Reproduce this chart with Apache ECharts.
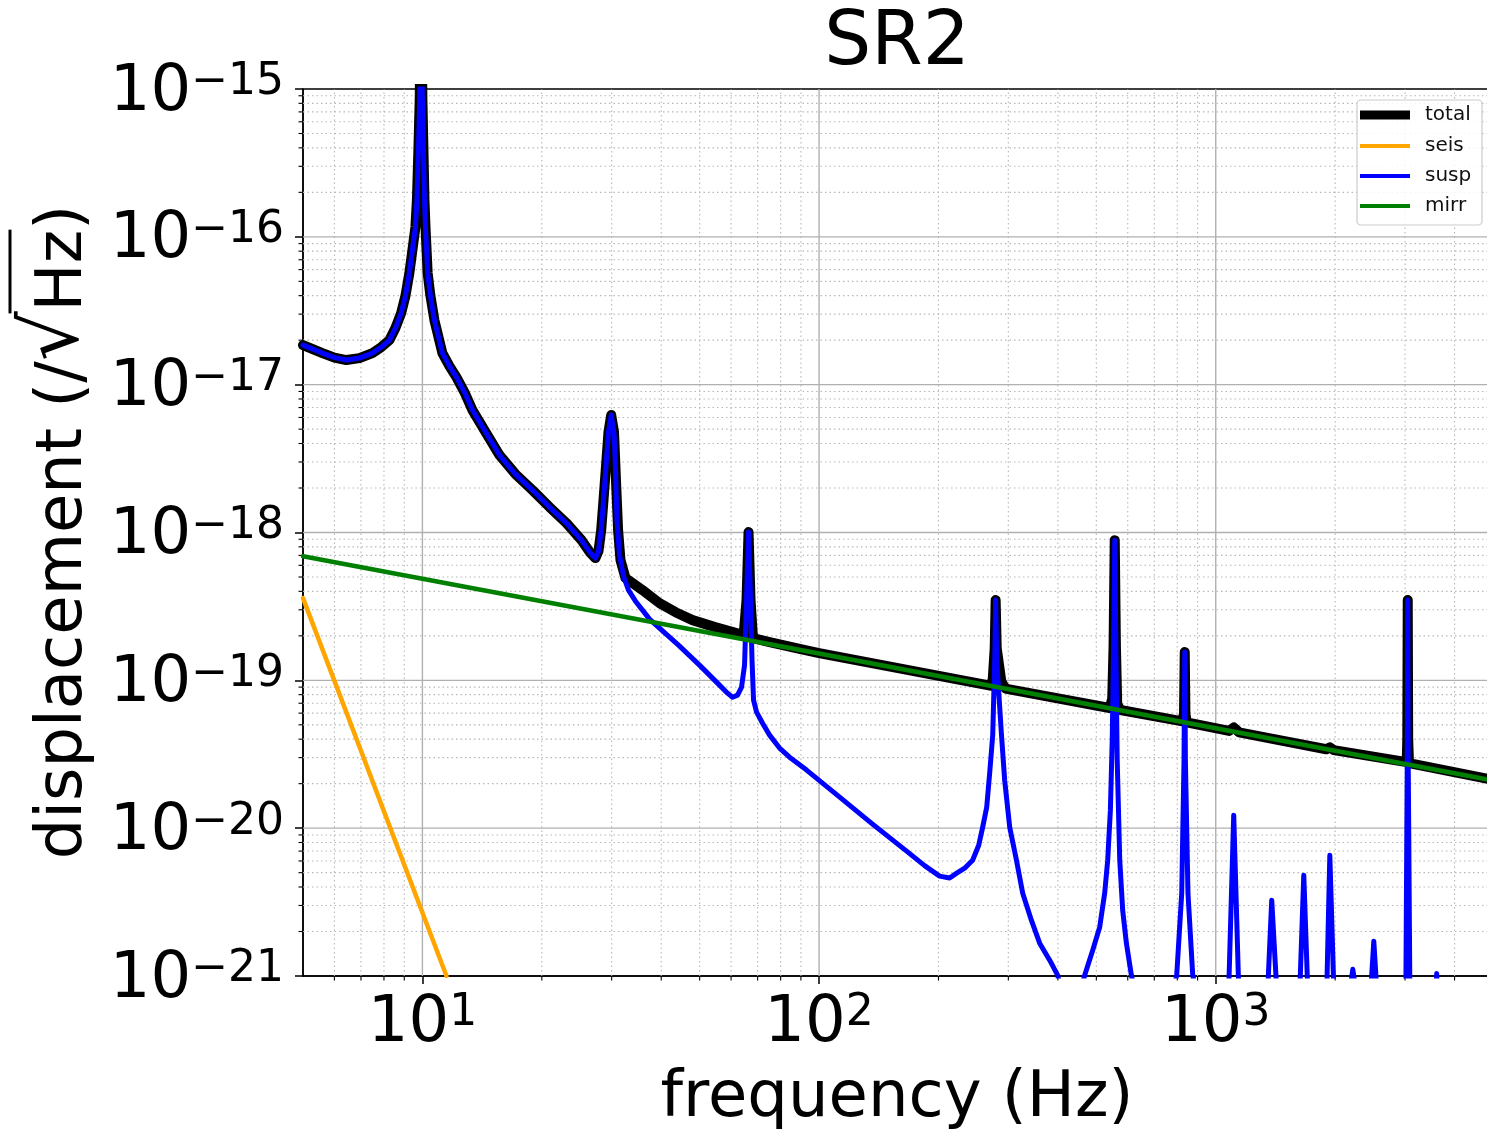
<!DOCTYPE html>
<html>
<head>
<meta charset="utf-8">
<script src="https://cdn.jsdelivr.net/npm/echarts@6.0.0/dist/echarts.min.js"></script>
<style>
  html, body { margin: 0; padding: 0; background: #ffffff; overflow: hidden; }
  #chart { width: 1500px; height: 1134px; }
</style>
</head>
<body>
<div id="chart"></div>
<script>
// Noise budget for SR2: displacement spectral density (m/√Hz) against frequency (Hz).

// seismic contribution
const seisFreq = [5, 11.5];
const seisDisp = [3.6e-19, 1.0e-21];

// mirror thermal contribution
const mirrFreq = [5, 5000];
const mirrDisp = [6.9e-19, 2.1e-20];

// suspension contribution
const suspFreq = [
  5.0, 5.597, 6.0, 6.43, 6.94, 7.48, 7.88, 8.26, 8.55, 8.84,
  9.06, 9.27, 9.436, 9.602, 9.686, 9.77, 9.844, 9.92, 10.0, 10.06,
  10.12, 10.18, 10.31, 10.47, 10.72, 11.23, 11.70, 12.18, 12.76, 13.37,
  14.33, 15.64, 17.16, 18.94, 20.91, 23.08, 25.18, 26.53, 27.31, 27.79,
  28.23, 28.61, 29.07, 29.45, 29.92, 30.41, 30.68, 30.94, 31.39, 32.13,
  33.08, 34.45, 35.88, 37.37, 39.6, 44.49, 49.95, 56.1, 58.77, 60.5,
  62.3, 63.76, 64.88, 65.63, 66.4, 67.17, 67.76, 68.36, 69.57, 72.03,
  75.04, 79.5, 84.25, 93.0, 112.7, 136.4, 166.2, 184.5, 201.3, 213.4,
  222.3, 232.8, 243.8, 252.6, 258.5, 264.6, 269.2, 274.0, 277.2, 278.7,
  280.4, 288.1, 293.7, 302.4, 314.5, 326.1, 342.9, 359.8, 381.4, 399.6,
  430, 467.3, 489.6, 509.8, 524.8, 534.1, 542.5, 548.3, 552.6, 556.4,
  560.2, 564.4, 572.8, 582.6, 595.3, 612.9, 700, 797.3, 820.8, 831.8,
  835.3, 838.5, 851.1, 875, 970, 1078, 1110, 1143, 1250, 1352,
  1384, 1425, 1500, 1629, 1667, 1706, 1800, 1905, 1939, 1985,
  2080, 2178, 2216, 2255, 2350, 2460, 2503, 2547, 2800, 3015,
  3040, 3048, 3056, 3086, 3300, 3580, 3606, 3630, 5000
];
const suspDisp = [
  1.853e-17, 1.636e-17, 1.525e-17, 1.467e-17, 1.513e-17, 1.636e-17, 1.797e-17, 2.003e-17, 2.415e-17, 3.05e-17,
  3.976e-17, 5.69e-17, 8.14e-17, 1.165e-16, 1.774e-16, 3.87e-16, 8.43e-16, 5e-15, 8.43e-16, 3.87e-16,
  1.774e-16, 1.165e-16, 5.69e-17, 4.038e-17, 2.735e-17, 1.636e-17, 1.336e-17, 1.126e-17, 8.91e-18, 6.73e-18,
  4.93e-18, 3.34e-18, 2.484e-18, 1.936e-18, 1.486e-18, 1.158e-18, 8.88e-19, 7.26e-19, 6.71e-19, 7.48e-19,
  1.038e-18, 1.656e-18, 2.949e-18, 4.78e-18, 6.23e-18, 4.78e-18, 2.64e-18, 1.213e-18, 7.03e-19, 5.07e-19,
  4.08e-19, 3.43e-19, 2.985e-19, 2.595e-19, 2.255e-19, 1.703e-19, 1.267e-19, 9.28e-20, 8.19e-20, 7.69e-20,
  7.94e-20, 8.99e-20, 1.267e-19, 3.49e-19, 1.006e-18, 3.49e-19, 1.37e-19, 7.35e-20, 6.09e-20, 5.13e-20,
  4.26e-20, 3.48e-20, 3.02e-20, 2.47e-20, 1.621e-20, 1.064e-20, 6.99e-21, 5.58e-21, 4.74e-21, 4.6e-21,
  4.96e-21, 5.36e-21, 6.07e-21, 7.67e-21, 1.016e-20, 1.387e-20, 2.356e-20, 4.26e-20, 1.37e-19, 3.49e-19,
  1.37e-19, 4.39e-20, 2.11e-20, 1.016e-20, 6.07e-21, 3.63e-21, 2.385e-21, 1.667e-21, 1.279e-21, 1.01e-21,
  4e-22, 1.01e-21, 1.495e-21, 2.14e-21, 3.63e-21, 6.07e-21, 1.324e-20, 3.94e-20, 1.6e-19, 8.88e-19,
  1.6e-19, 2.88e-20, 6.07e-21, 2.79e-21, 1.667e-21, 1.01e-21, 2e-22, 1.01e-21, 3.63e-21, 2.88e-20,
  1.552e-19, 2.88e-20, 3.63e-21, 1.01e-21, 3e-22, 8e-22, 1.225e-20, 8e-22, 3e-22, 8e-22,
  3.26e-21, 8e-22, 3e-22, 8e-22, 4.81e-21, 8e-22, 3e-22, 8e-22, 6.56e-21, 8e-22,
  3e-22, 8e-22, 1.11e-21, 8e-22, 3e-22, 8e-22, 1.72e-21, 8e-22, 3e-22, 8e-22,
  3e-20, 3.49e-19, 3e-20, 8e-22, 3e-22, 6e-22, 1.04e-21, 6e-22, 2e-22
];

// quadrature sum of all terms
const totalFreq = [
  5.0, 5.597, 6.0, 6.43, 6.94, 7.48, 7.88, 8.26, 8.55, 8.84,
  9.06, 9.27, 9.436, 9.602, 9.686, 9.77, 9.844, 9.92, 10.0, 10.06,
  10.12, 10.18, 10.31, 10.47, 10.72, 11.23, 11.70, 12.18, 12.76, 13.37,
  14.33, 15.64, 17.16, 18.94, 20.91, 23.08, 25.18, 26.53, 27.31, 27.79,
  28.23, 28.61, 29.07, 29.45, 29.92, 30.41, 30.76, 31.14, 31.58, 32.51,
  35.87, 39.6, 43.47, 47.97, 54.67, 61.93, 64.5, 65.63, 66.4, 67.17,
  68.15, 75.04, 89.3, 100, 270, 274.0, 277.2, 278.7, 280.4, 288.1,
  295, 540, 548.3, 552.6, 556.4, 560.2, 564.4, 575, 825, 831.8,
  835.3, 838.5, 845, 1080, 1110, 1145, 1900, 1939, 1985, 3030,
  3040, 3048, 3056, 3070, 5000
];
const totalDisp = [
  1.853e-17, 1.636e-17, 1.525e-17, 1.467e-17, 1.513e-17, 1.636e-17, 1.797e-17, 2.003e-17, 2.415e-17, 3.05e-17,
  3.976e-17, 5.69e-17, 8.14e-17, 1.165e-16, 1.774e-16, 3.87e-16, 8.43e-16, 5e-15, 8.43e-16, 3.87e-16,
  1.774e-16, 1.165e-16, 5.69e-17, 4.038e-17, 2.735e-17, 1.636e-17, 1.336e-17, 1.126e-17, 8.91e-18, 6.73e-18,
  4.93e-18, 3.34e-18, 2.484e-18, 1.936e-18, 1.486e-18, 1.158e-18, 8.88e-19, 7.26e-19, 6.71e-19, 7.48e-19,
  1.038e-18, 1.656e-18, 2.949e-18, 4.78e-18, 6.23e-18, 4.78e-18, 2.26e-18, 1.038e-18, 6.51e-19, 4.92e-19,
  4.08e-19, 3.33e-19, 2.89e-19, 2.555e-19, 2.29e-19, 2.086e-19, 1.99e-19, 3.49e-19, 1.006e-18, 3.49e-19,
  1.93e-19, 1.813e-19, 1.63e-19, 1.53e-19, 9.2e-20, 1.01e-19, 1.65e-19, 3.49e-19, 1.65e-19, 9.8e-20,
  8.8e-20, 6.5e-20, 7.5e-20, 1.7e-19, 8.88e-19, 1.7e-19, 6.9e-20, 6.3e-20, 5.28e-20, 6.0e-20,
  1.552e-19, 5.95e-20, 5.2e-20, 4.55e-20, 4.8e-20, 4.45e-20, 3.42e-20, 3.52e-20, 3.37e-20, 2.8e-20,
  4.0e-20, 3.49e-19, 4.0e-20, 2.75e-20, 2.12e-20
];

// axis ranges and decade ticks (exponents of ten)
const freqMin = 5;
const freqMax = 5000;
const dispMinExp = -21;
const dispMaxExp = -15;
const xDecades = [1, 2, 3];
const minorMultipliers = [2, 3, 4, 5, 6, 7, 8, 9];

const FONT = "'DejaVu Sans', sans-serif";
const X_MIN = Math.log10(freqMin);
const X_MAX = Math.log10(freqMax);

function toLogPairs(freq, disp) {
  return freq.map((f, i) => [Math.log10(f), Math.log10(disp[i])]);
}

// grid lines and minor ticks: [x, y, kind(0 = vertical, 1 = horizontal), major?]
const gridItems = [];
for (let e = 0; e <= 3; e++) {
  if (e >= 1) gridItems.push([e, dispMinExp, 0, 1]);
  minorMultipliers.forEach(m => {
    const lv = Math.log10(m) + e;
    if (lv > X_MIN + 1e-9 && lv < X_MAX - 1e-9) gridItems.push([lv, dispMinExp, 0, 0]);
  });
}
for (let e = dispMinExp; e <= dispMaxExp; e++) {
  if (e > dispMinExp && e < dispMaxExp) gridItems.push([X_MIN, e, 1, 1]);
  if (e < dispMaxExp) {
    minorMultipliers.forEach(m => gridItems.push([X_MIN, e + Math.log10(m), 1, 0]));
  }
}

// y-axis title: measure pieces so the radical's bar can run over "Hz"
const yTitleCenter = 532;
const measureCtx = document.createElement('canvas').getContext('2d');
function textWidth(str, font) { measureCtx.font = font; return measureCtx.measureText(str).width; }
const fontBody = "64px 'DejaVu Sans'";
const fontRad = "78px 'DejaVu Sans'";
const wPrefix = textWidth('displacement (/', fontBody);
const wRad = textWidth('\u221A', fontRad);
const wHz = textWidth('Hz', fontBody);
const wClose = textWidth(')', fontBody);
const wAll = wPrefix + wRad + wHz + wClose;
const radTopY = yTitleCenter + wAll / 2 - wPrefix - wRad;
const hzEndY = radTopY - wHz;

const chart = echarts.init(document.getElementById('chart'), null, { renderer: 'canvas' });

const labelRich = {
  b: { fontFamily: FONT, fontSize: 64, lineHeight: 64, color: '#000', verticalAlign: 'bottom' },
  s: { fontFamily: FONT, fontSize: 44, lineHeight: 44, color: '#000', verticalAlign: 'top' }
};

const option = {
  animation: false,
  backgroundColor: '#ffffff',
  grid: {
    left: 303, top: 89, width: 1190, height: 887,
    show: true, borderColor: '#000000', borderWidth: 1.5, backgroundColor: 'transparent',
    containLabel: false
  },
  xAxis: {
    type: 'value', min: X_MIN, max: X_MAX,
    axisLine: { show: true, lineStyle: { color: '#000', width: 1.5 } },
    axisTick: { show: true, customValues: xDecades, length: 8, lineStyle: { color: '#000', width: 1.5 } },
    splitLine: { show: false },
    axisLabel: {
      customValues: xDecades, margin: 16,
      formatter: v => '{b|10}{s|' + v + '}',
      rich: labelRich
    }
  },
  yAxis: {
    type: 'value', min: dispMinExp, max: dispMaxExp, interval: 1,
    axisLine: { show: true, lineStyle: { color: '#000', width: 1.5 } },
    axisTick: { show: true, length: 8, lineStyle: { color: '#000', width: 1.5 } },
    splitLine: { show: false },
    axisLabel: {
      margin: 19, padding: [8, 0, 0, 0],
      formatter: v => '{b|10}{s|\u2212' + Math.abs(v) + '}',
      rich: labelRich
    }
  },
  legend: [
    {
      data: ['total'], orient: 'vertical', left: 1360, top: 105, padding: 0, z: 20,
      icon: 'rect', itemWidth: 50, itemHeight: 9, selectedMode: false,
      textStyle: { fontFamily: FONT, fontSize: 20, color: '#111', padding: [0, 0, 0, 10] }
    },
    {
      data: ['seis', 'susp', 'mirr'], orient: 'vertical', left: 1360, top: 136, padding: 0, z: 20,
      icon: 'rect', itemWidth: 50, itemHeight: 4, itemGap: 10, selectedMode: false,
      textStyle: { fontFamily: FONT, fontSize: 20, color: '#111', padding: [0, 0, 0, 10] }
    }
  ],
  graphic: {
    elements: [
      {
        type: 'rect', z: 15,
        shape: { x: 1357, y: 100, width: 125, height: 125, r: 4 },
        style: { fill: 'rgba(255,255,255,0.85)', stroke: '#cccccc', lineWidth: 1.2 }
      },
      {
        type: 'text', x: 897, y: 45, z: 15,
        style: { text: 'SR2', font: '74px ' + FONT, fill: '#000', textAlign: 'center', textVerticalAlign: 'middle' }
      },
      {
        type: 'text', x: 897, y: 1099, z: 15,
        style: { text: 'frequency (Hz)', font: '64px ' + FONT, fill: '#000', textAlign: 'center', textVerticalAlign: 'middle' }
      },
      {
        type: 'text', x: 57, y: yTitleCenter, rotation: Math.PI / 2, z: 15,
        style: {
          text: '{n|displacement (/}{r|\u221A}{n|Hz)}',
          textAlign: 'center', textVerticalAlign: 'middle',
          rich: {
            n: { fontFamily: FONT, fontSize: 64, lineHeight: 78, fill: '#000', verticalAlign: 'bottom' },
            r: { fontFamily: FONT, fontSize: 78, lineHeight: 78, fill: '#000', verticalAlign: 'bottom' }
          }
        }
      },
      {
        type: 'line', z: 15,
        shape: { x1: 10, y1: radTopY + 2, x2: 10, y2: hzEndY },
        style: { stroke: '#000', lineWidth: 3 }
      }
    ]
  },
  series: [
    {
      name: 'grid', type: 'custom', coordinateSystem: 'cartesian2d', clip: false, z: 1, silent: true,
      data: gridItems,
      renderItem: (params, api) => {
        const kind = api.value(2);
        const major = api.value(3) === 1;
        const stroke = major ? '#b0b0b0' : '#b8b8b8';
        const dash = major ? null : [1.5, 3];
        const lw = major ? 1.4 : 1.1;
        if (kind === 0) {
          const v = api.value(0);
          const p0 = api.coord([v, dispMinExp]);
          const p1 = api.coord([v, dispMaxExp]);
          const children = [{
            type: 'line', shape: { x1: p0[0], y1: p0[1], x2: p1[0], y2: p1[1] },
            style: { stroke, lineWidth: lw, lineDash: dash }
          }];
          if (!major) children.push({
            type: 'line', shape: { x1: p0[0], y1: p0[1], x2: p0[0], y2: p0[1] + 4.5 },
            style: { stroke: '#000', lineWidth: 1.1 }
          });
          return { type: 'group', children };
        }
        const v = api.value(1);
        const p0 = api.coord([X_MIN, v]);
        const p1 = api.coord([X_MAX, v]);
        const children = [{
          type: 'line', shape: { x1: p0[0], y1: p0[1], x2: p1[0], y2: p1[1] },
          style: { stroke, lineWidth: lw, lineDash: dash }
        }];
        if (!major) children.push({
          type: 'line', shape: { x1: p0[0] - 4.5, y1: p0[1], x2: p0[0], y2: p0[1] },
          style: { stroke: '#000', lineWidth: 1.1 }
        });
        return { type: 'group', children };
      }
    },
    {
      name: 'total', type: 'line', z: 2, color: '#000000', showSymbol: false, clip: true, silent: true,
      data: toLogPairs(totalFreq, totalDisp),
      lineStyle: { color: '#000000', width: 10, cap: 'round', join: 'round' }
    },
    {
      name: 'seis', type: 'line', z: 3, color: '#ffa500', showSymbol: false, clip: true, silent: true,
      data: toLogPairs(seisFreq, seisDisp),
      lineStyle: { color: '#ffa500', width: 4.5, cap: 'round', join: 'round' }
    },
    {
      name: 'susp', type: 'line', z: 4, color: '#0000ff', showSymbol: false, clip: true, silent: true,
      data: toLogPairs(suspFreq, suspDisp),
      lineStyle: { color: '#0000ff', width: 5, cap: 'round', join: 'round' }
    },
    {
      name: 'mirr', type: 'line', z: 5, color: '#008000', showSymbol: false, clip: true, silent: true,
      data: toLogPairs(mirrFreq, mirrDisp),
      lineStyle: { color: '#008000', width: 4.5, cap: 'round', join: 'round' }
    }
  ]
};

chart.setOption(option);
</script>
</body>
</html>
